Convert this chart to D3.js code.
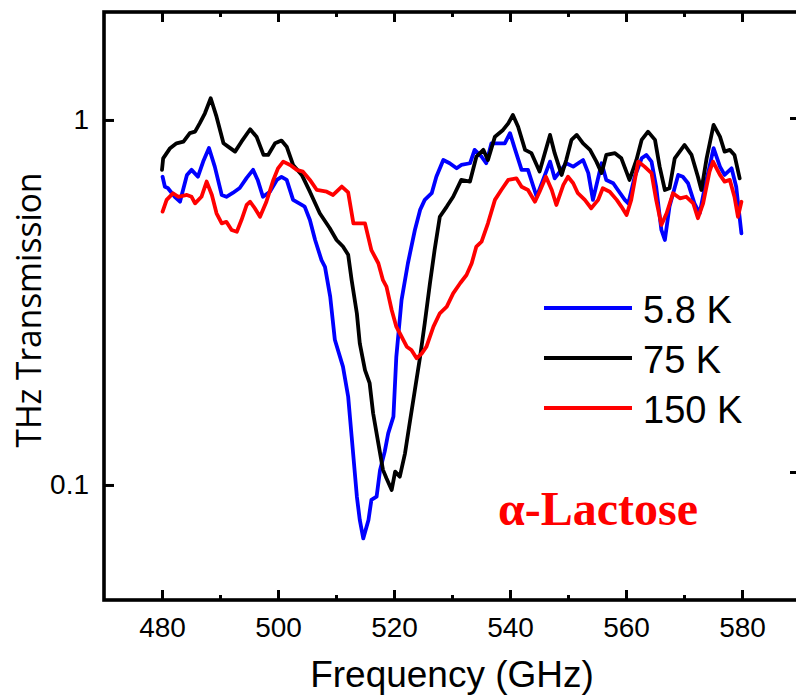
<!DOCTYPE html>
<html>
<head>
<meta charset="utf-8">
<script src="https://cdn.jsdelivr.net/npm/d3@7"></script>
<style>
  body { margin: 0; background: #fff; }
  svg { display: block; }
</style>
</head>
<body>
<svg class="chart"></svg>
<script>
// 5.8 K
const freq_5k = [480.1,480.5,481.0,482.2,483.1,484.3,485.1,486.2,487.1,488.1,
  489.1,490.3,491.1,492.2,493.4,494.6,495.7,496.5,497.4,498.6,
  499.8,500.6,501.5,502.6,504.1,504.6,505.5,506.4,507.5,508.1,
  509.0,509.8,511.2,512.1,512.7,513.6,514.1,514.7,515.6,516.1,
  517.0,517.6,518.4,519.0,519.9,520.4,521.3,522.4,523.6,524.5,
  525.3,526.5,527.3,528.5,529.6,530.8,531.6,533.1,533.9,535.1,
  535.9,536.8,538.0,539.1,540.0,540.8,542.0,543.1,544.6,545.7,
  546.9,547.7,548.6,549.7,550.9,552.6,553.5,554.3,555.8,556.6,
  557.8,558.6,559.8,560.4,561.5,562.7,563.5,564.4,565.2,566.1,
  566.7,567.5,569.0,569.8,570.7,571.8,572.7,573.6,574.4,575.1,
  576.2,577.0,578.2,579.0,579.9];
const trans_5k = [0.699,0.656,0.651,0.616,0.597,0.707,0.730,0.699,0.769,0.838,
  0.745,0.623,0.616,0.631,0.651,0.694,0.730,0.685,0.616,0.636,
  0.685,0.698,0.685,0.604,0.585,0.579,0.532,0.469,0.413,0.396,
  0.328,0.250,0.211,0.1745,0.1356,0.0929,0.0802,0.0714,0.0802,0.0910,
  0.0929,0.110,0.1234,0.1385,0.1539,0.2246,0.321,0.405,0.4995,0.567,
  0.604,0.630,0.699,0.777,0.761,0.737,0.753,0.761,0.828,0.793,
  0.761,0.863,0.863,0.863,0.920,0.837,0.730,0.730,0.616,0.685,
  0.769,0.692,0.722,0.761,0.745,0.777,0.715,0.604,0.761,0.685,
  0.671,0.643,0.604,0.591,0.699,0.785,0.802,0.769,0.656,0.4995,
  0.469,0.579,0.707,0.699,0.671,0.591,0.555,0.656,0.745,0.837,
  0.745,0.707,0.737,0.656,0.489];

// 75 K
const freq_75k = [480.0,480.2,481.4,482.5,483.7,484.8,485.7,486.5,487.4,488.4,
  489.4,490.6,491.4,492.6,493.7,495.2,496.3,497.5,498.3,499.5,
  500.6,501.5,502.6,504.1,505.5,507.2,508.9,510.1,511.2,512.1,
  512.7,513.6,514.1,515.0,515.8,516.4,517.3,518.1,518.7,519.6,
  520.2,521.0,521.9,522.7,523.6,524.5,525.3,526.2,527.0,527.9,
  529.1,530.2,531.6,533.1,534.2,535.4,536.2,537.4,538.8,539.7,
  540.5,541.4,542.6,543.7,545.1,546.0,546.9,547.7,548.9,549.7,
  550.6,551.5,552.6,553.8,554.9,555.8,556.6,558.1,559.2,560.6,
  561.8,562.7,563.8,565.0,565.8,566.7,567.5,568.4,570.1,571.3,
  572.4,573.0,573.9,575.1,576.2,577.0,577.9,578.7,579.6];
const trans_75k = [0.730,0.785,0.837,0.863,0.872,0.920,0.929,0.979,1.043,1.147,
  1.021,0.863,0.845,0.819,0.872,0.943,0.900,0.802,0.802,0.863,
  0.878,0.845,0.753,0.707,0.636,0.555,0.506,0.469,0.450,0.427,
  0.364,0.295,0.2444,0.2065,0.190,0.1572,0.130,0.110,0.1043,0.0969,
  0.1088,0.1054,0.1221,0.1476,0.182,0.2246,0.2773,0.357,0.440,0.543,
  0.579,0.616,0.685,0.678,0.793,0.828,0.777,0.900,0.939,0.979,
  1.032,0.958,0.828,0.811,0.722,0.811,0.910,0.811,0.707,0.777,
  0.882,0.910,0.863,0.828,0.769,0.715,0.802,0.811,0.785,0.685,
  0.777,0.882,0.929,0.882,0.745,0.643,0.650,0.785,0.854,0.802,
  0.699,0.643,0.785,0.969,0.900,0.819,0.828,0.802,0.692];

// 150 K
const freq_150k = [480.1,480.8,481.9,482.8,484.3,485.1,485.7,486.8,487.7,488.6,
  489.4,490.3,491.1,492.0,492.9,493.7,494.6,495.2,496.0,496.9,
  498.0,499.2,500.0,500.9,502.1,503.2,504.3,505.5,506.7,508.4,
  509.5,511.0,512.1,513.0,515.0,516.1,517.3,518.1,518.7,519.6,
  520.4,521.0,522.2,523.0,523.9,524.8,525.6,526.8,527.9,529.1,
  530.2,531.4,532.5,533.4,534.2,535.1,536.2,537.4,538.5,539.7,
  541.1,542.0,543.1,544.3,545.1,546.2,547.2,548.0,549.2,550.0,
  550.9,551.7,552.9,554.0,555.2,556.0,557.2,558.4,559.2,560.1,
  560.9,562.1,563.2,564.4,565.2,566.1,567.0,568.1,569.3,570.4,
  571.6,572.4,573.3,574.4,575.0,576.2,577.0,577.9,578.7,579.3,579.9];
const trans_150k = [0.561,0.604,0.630,0.616,0.623,0.616,0.591,0.616,0.678,0.623,
  0.555,0.521,0.526,0.4995,0.494,0.532,0.585,0.597,0.573,0.543,
  0.597,0.685,0.737,0.769,0.753,0.730,0.722,0.685,0.643,0.636,
  0.623,0.657,0.633,0.521,0.521,0.440,0.405,0.364,0.3494,0.3016,
  0.2715,0.2604,0.2392,0.2343,0.2224,0.2295,0.2392,0.2715,0.2954,0.308,
  0.335,0.357,0.376,0.405,0.450,0.464,0.521,0.604,0.643,0.685,
  0.692,0.656,0.643,0.597,0.636,0.699,0.643,0.585,0.664,0.699,
  0.671,0.630,0.604,0.573,0.604,0.650,0.636,0.604,0.579,0.549,
  0.604,0.769,0.745,0.715,0.604,0.516,0.555,0.630,0.610,0.616,
  0.591,0.538,0.591,0.722,0.769,0.707,0.678,0.685,0.616,0.543,0.597];

const series_names = ['5.8 K', '75 K', '150 K'];
const series_colors = ['#0000ff', '#000000', '#ff0000'];
const x_major_ticks = [480, 500, 520, 540, 560, 580];
const x_minor_ticks = [490, 510, 530, 550, 570];
const y_ticks = [1, 0.1];
const y_tick_labels = ['1', '0.1'];

const svg_width = 796, svg_height = 696;
const plot_left = 104, plot_right = 800, plot_top = 12, plot_bottom = 600;

let chart = d3.select('.chart')
  .attr('width', svg_width)
  .attr('height', svg_height);

let x = d3.scaleLinear().domain([470, 590]).range([plot_left, plot_right]);
let y = d3.scaleLog().domain([0.0484, 1.976]).range([plot_bottom, plot_top]);
// right axis ticks sit a little off from the left ones in the original
let y_right = d3.scaleLog().domain([0.1, 1]).range([472, 118]);

const sans = 'Liberation Sans, Arial, sans-serif';

let line = d3.line()
  .x(d => x(d[0]))
  .y(d => y(d[1]));

let series = [
  d3.zip(freq_5k, trans_5k),
  d3.zip(freq_75k, trans_75k),
  d3.zip(freq_150k, trans_150k)
];

series.forEach((s, i) => {
  chart.append('path')
    .datum(s)
    .attr('d', line)
    .attr('fill', 'none')
    .attr('stroke', series_colors[i])
    .attr('stroke-width', 3.8)
    .attr('stroke-linejoin', 'round')
    .attr('stroke-linecap', 'round');
});

// axes, ticks pointing inward
function style_axis(g){
  g.select('.domain').remove();
  g.selectAll('.tick line').attr('stroke', '#000').attr('stroke-width', 3);
  g.selectAll('.tick text')
    .attr('fill', '#000')
    .style('font-family', sans)
    .style('font-size', '28px');
}

chart.append('g')
  .attr('transform', 'translate(0,' + plot_bottom + ')')
  .call(d3.axisBottom(x).tickValues(x_major_ticks).tickFormat(d3.format('d'))
    .tickSizeInner(-10).tickSizeOuter(0).tickPadding(17))
  .call(style_axis);

chart.append('g')
  .attr('transform', 'translate(0,' + plot_bottom + ')')
  .call(d3.axisBottom(x).tickValues(x_minor_ticks).tickFormat('')
    .tickSizeInner(-5).tickSizeOuter(0))
  .call(style_axis);

chart.append('g')
  .attr('transform', 'translate(0,' + plot_top + ')')
  .call(d3.axisTop(x).tickValues(x_major_ticks).tickFormat('')
    .tickSizeInner(-10).tickSizeOuter(0))
  .call(style_axis);

chart.append('g')
  .attr('transform', 'translate(0,' + plot_top + ')')
  .call(d3.axisTop(x).tickValues(x_minor_ticks).tickFormat('')
    .tickSizeInner(-5).tickSizeOuter(0))
  .call(style_axis);

chart.append('g')
  .attr('transform', 'translate(' + plot_left + ',0)')
  .call(d3.axisLeft(y).tickValues(y_ticks).tickFormat((d, i) => y_tick_labels[i])
    .tickSizeInner(-10).tickSizeOuter(0).tickPadding(15))
  .call(style_axis);

chart.append('g')
  .attr('transform', 'translate(' + plot_right + ',0)')
  .call(d3.axisRight(y_right).tickValues(y_ticks).tickFormat('')
    .tickSizeInner(-10).tickSizeOuter(0))
  .call(style_axis);

chart.append('rect')
  .attr('x', plot_left)
  .attr('y', plot_top)
  .attr('width', plot_right - plot_left)
  .attr('height', plot_bottom - plot_top)
  .attr('fill', 'none')
  .attr('stroke', '#000')
  .attr('stroke-width', 3.6);

// axis titles
chart.append('text')
  .attr('x', (plot_left + plot_right) / 2)
  .attr('y', 687)
  .attr('text-anchor', 'middle')
  .style('font-family', sans)
  .style('font-size', '37px')
  .text('Frequency (GHz)');

chart.append('text')
  .attr('transform', 'translate(41,310) rotate(-90)')
  .attr('text-anchor', 'middle')
  .attr('textLength', 275)
  .attr('lengthAdjust', 'spacingAndGlyphs')
  .style('font-family', 'Open Sans, sans-serif')
  .style('font-size', '34px')
  .text('THz Transmission');

// legend
let legend = chart.selectAll('.key')
  .data(series_names)
  .enter()
  .append('g')
  .attr('class', 'key')
  .attr('transform', (d, i) => 'translate(544,' + (308 + i * 50) + ')');

legend.append('line')
  .attr('x1', 0)
  .attr('x2', 88)
  .attr('stroke', (d, i) => series_colors[i])
  .attr('stroke-width', 4);

legend.append('text')
  .attr('x', 99)
  .attr('y', 15)
  .style('font-family', sans)
  .style('font-size', '38px')
  .text(d => d);

chart.append('text')
  .attr('x', 498)
  .attr('y', 525)
  .attr('fill', '#ff0000')
  .style('font-family', 'Liberation Serif, Times New Roman, serif')
  .style('font-weight', 'bold')
  .style('font-size', '48px')
  .text('α-Lactose');
</script>
</body>
</html>
